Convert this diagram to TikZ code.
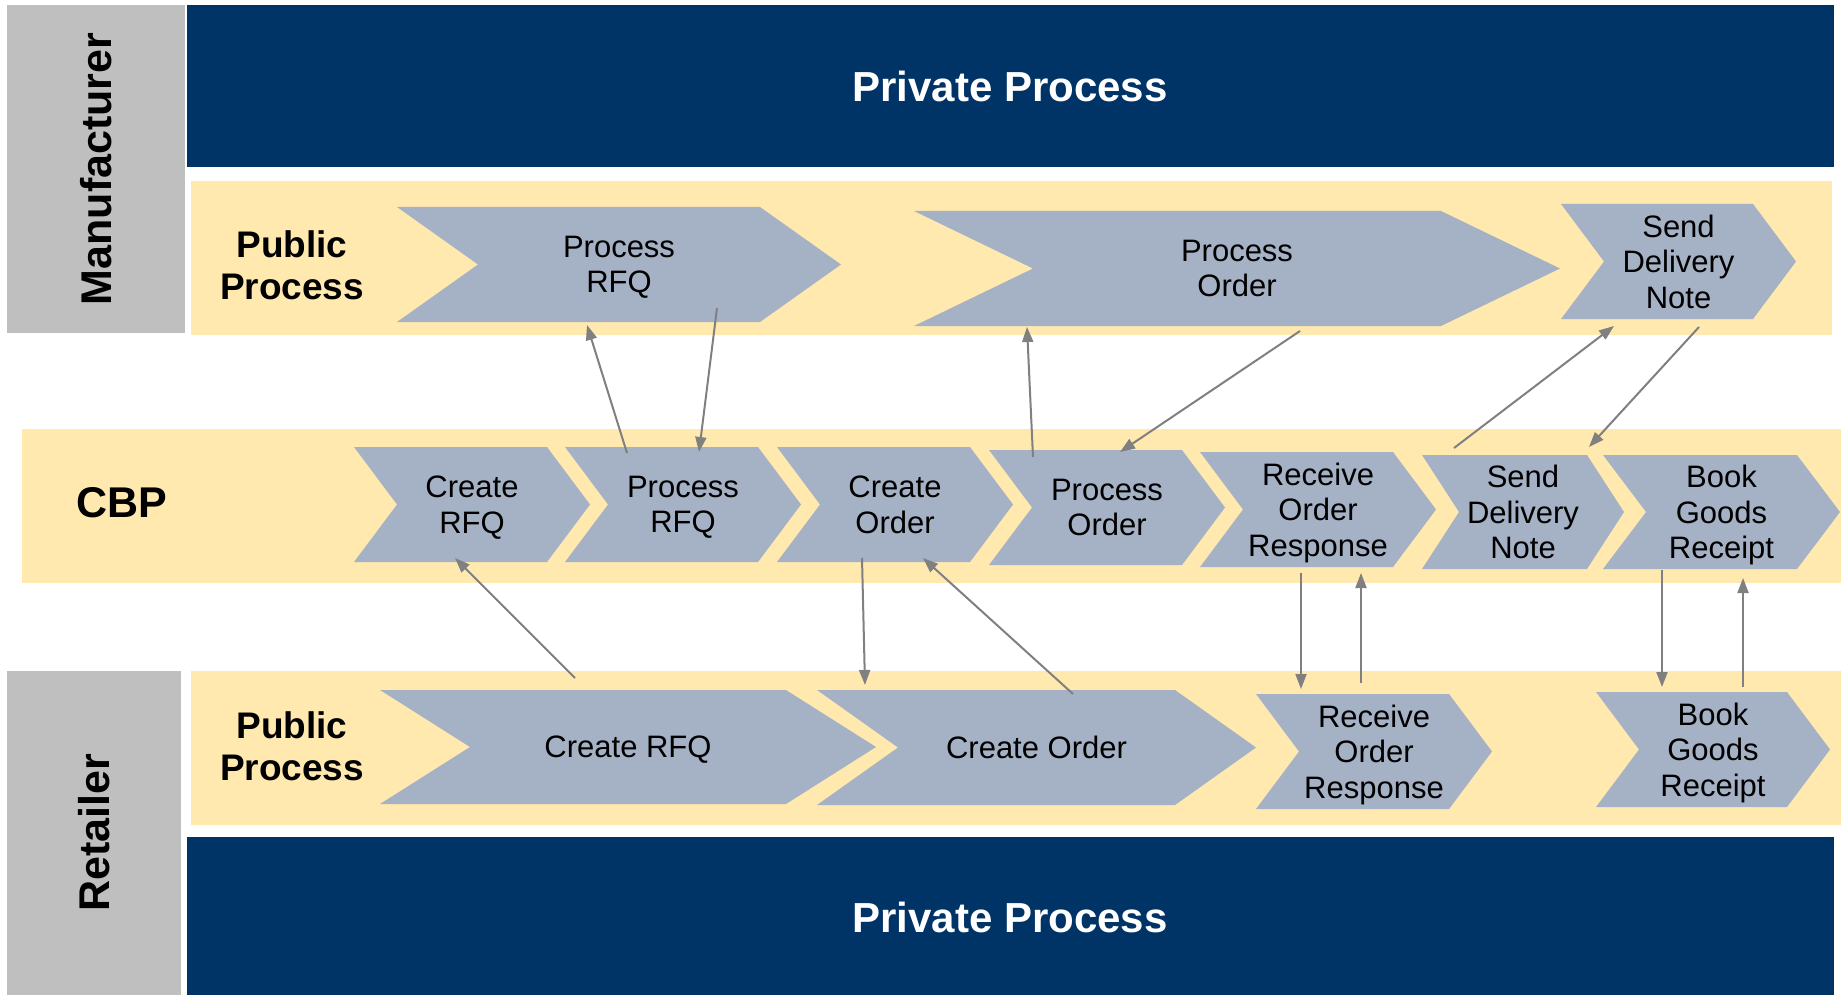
\documentclass[tikz,border=0pt]{standalone}
\usepackage{fontspec}
\setmainfont{Liberation Sans}
\usetikzlibrary{arrows.meta}
\definecolor{navy}{RGB}{0,51,102}
\definecolor{bandyellow}{RGB}{255,233,175}
\definecolor{chevblue}{RGB}{165,177,197}
\definecolor{lanegray}{RGB}{191,191,191}
\definecolor{arrowgray}{RGB}{128,128,128}
\newcommand\chev[7]{%
  \fill[chevblue] (#2,#5) -- (#4,#5) -- ({#4+#3},{(#5+#6)/2}) -- (#4,#6) -- (#2,#6) -- ({#2+#3},{(#5+#6)/2}) -- cycle;
  \node[chevtext] (#1) at ({(#2+#3+#4)/2},{(#5+#6)/2}) {#7};
}
\begin{document}
\begin{tikzpicture}[x=1pt,y=-1pt,
  chevtext/.style={align=center,inner sep=0pt,text depth=0pt,font=\fontsize{31}{35.5}\selectfont,text=black},
  lanelabel/.style={rotate=90,font=\fontsize{43}{48}\selectfont\bfseries,text=black,inner sep=0pt},
  privlabel/.style={font=\fontsize{42}{46}\selectfont\bfseries,text=white,inner sep=0pt},
  publabel/.style={align=center,text depth=0pt,font=\fontsize{37}{42.6}\selectfont\bfseries,text=black,inner sep=0pt},
  arr/.style={draw=arrowgray,line width=2pt,-{Triangle[length=15pt,width=11pt]}}]
\useasboundingbox (0,0) rectangle (1841,995);
\fill[white] (0,0) rectangle (1841,995);
% lanes
\fill[lanegray] (7,5) rectangle (185,333);
\fill[lanegray] (7,671) rectangle (181,995);
\fill[navy] (187,5) rectangle (1834,167);
\fill[navy] (187,837) rectangle (1834,995);
\fill[bandyellow] (191,181) rectangle (1832,335);
\fill[bandyellow] (22,429) rectangle (1841,583);
\fill[bandyellow] (191,671) rectangle (1841,825);
% labels
\node[lanelabel] (manu) at (96,169) {Manufacturer};
\node[lanelabel] (reta) at (94,833) {Retailer};
\node[privlabel] (privtop) at (1010,86) {Private Process};
\node[privlabel] (privbot) at (1010,917) {Private Process};
\node[publabel] (pubtop) at (292,265) {Public\\Process};
\node[publabel] (pubbot) at (292,746) {Public\\Process};
\node[font=\fontsize{43}{48}\selectfont\bfseries,inner sep=0pt] (cbp) at (122,503) {CBP};
% top lane chevrons
\chev{tPRFQ}{397}{81}{760}{207}{322}{Process\\RFQ}
\chev{tPO}{914}{119}{1441}{211}{326}{Process\\Order}
\chev{tSDN}{1561}{43}{1753}{204}{319}{Send\\Delivery\\Note}
% CBP chevrons
\chev{cCRFQ}{354}{43}{547}{447}{562}{Create\\RFQ}
\chev{cPRFQ}{565}{43}{758}{447}{562}{Process\\RFQ}
\chev{cCO}{777}{43}{970}{447}{562}{Create\\Order}
\chev{cPO}{989}{43}{1182}{450}{565}{Process\\Order}
\chev{cROR}{1200}{43}{1393}{452}{567}{Receive\\Order\\Response}
\chev{cSDN}{1422}{37}{1587}{455}{569}{Send\\Delivery\\Note}
\chev{cBGR}{1603}{43}{1797}{455}{569}{Book\\Goods\\Receipt}
% bottom lane chevrons
\chev{bCRFQ}{380}{90}{786}{690}{804}{Create RFQ}
\chev{bCO}{817}{81}{1175}{690}{805}{Create Order}
\chev{bROR}{1256}{43}{1449}{694}{809}{Receive\\Order\\Response}
\chev{bBGR}{1596}{43}{1787}{692}{807}{Book\\Goods\\Receipt}
% connector end points
\coordinate (a1s) at (627,453); \coordinate (a1e) at (587,325);
\coordinate (a2s) at (717,308); \coordinate (a2e) at (699,452);
\coordinate (a3s) at (1033,457); \coordinate (a3e) at (1027,327);
\coordinate (a4s) at (1300,331); \coordinate (a4e) at (1120,452);
\coordinate (a5s) at (1454,448); \coordinate (a5e) at (1614,326);
\coordinate (a6s) at (1699,327); \coordinate (a6e) at (1589,447);
\coordinate (a7s) at (575,678); \coordinate (a7e) at (455,558);
\coordinate (a8s) at (862,558); \coordinate (a8e) at (865,685);
\coordinate (a9s) at (1073,694); \coordinate (a9e) at (923,558);
\coordinate (a10s) at (1301,573); \coordinate (a10e) at (1301,689);
\coordinate (a11s) at (1361,683); \coordinate (a11e) at (1361,573);
\coordinate (a12s) at (1662,570); \coordinate (a12e) at (1662,687);
\coordinate (a13s) at (1743,687); \coordinate (a13e) at (1743,578);
\foreach \i in {1,...,13} {\draw[arr] (a\i s) -- (a\i e);}
\end{tikzpicture}
\end{document}
